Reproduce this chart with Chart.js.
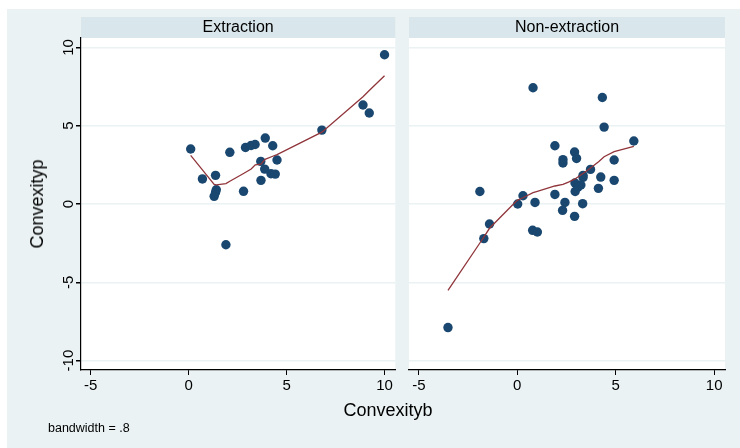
<!DOCTYPE html>
<html>
<head>
<meta charset="utf-8">
<script src="https://cdn.jsdelivr.net/npm/chart.js@4/dist/chart.umd.min.js"></script>
<style>
  html, body { margin: 0; padding: 0; background: #ffffff; }
  #wrap { position: relative; width: 740px; height: 448px; background: #ffffff; overflow: hidden;
          font-family: "Liberation Sans", Arial, Helvetica, sans-serif; }
  #bg { position: absolute; left: 7px; top: 9px; width: 733px; height: 439px; background: #eaf2f3; }
  canvas { position: absolute; top: 0; }
  #cvL { left: 0; }
  #cvR { left: 400px; }
  .lbl { position: absolute; color: #000; white-space: nowrap; line-height: 1; }
  #xTitle { left: 388px; top: 410px; font-size: 18px; transform: translate(-50%, -50%); }
  #yTitle { left: 37px; top: 204px; font-size: 18px; transform: translate(-50%, -50%) rotate(-90deg); }
  #note { left: 48px; top: 428px; font-size: 12.5px; transform: translate(0, -50%); }
</style>
</head>
<body>
<div id="wrap">
  <div id="bg"></div>
  <canvas id="cvL" width="400" height="448"></canvas>
  <canvas id="cvR" width="340" height="448"></canvas>
  <div class="lbl" id="xTitle">Convexityb</div>
  <div class="lbl" id="yTitle">Convexityp</div>
  <div class="lbl" id="note">bandwidth = .8</div>
</div>
<script>
// Panel titles
const panelTitles = ["Extraction", "Non-extraction"];

// Axis ticks
const xTicks = [-5, 0, 5, 10];
const yTicks = [-10, -5, 0, 5, 10];

// Extraction group: observations
const extractionX = [0.10, 0.70, 1.37, 1.41, 1.37, 1.30, 2.10, 2.80, 2.90, 3.19, 3.39, 3.91, 4.29, 3.68, 3.88, 3.69, 4.20, 4.42, 4.51, 6.80, 8.90, 9.22, 10.00, 1.90];
const extractionY = [3.51, 1.60, 1.83, 0.91, 0.74, 0.49, 3.30, 0.81, 3.61, 3.74, 3.80, 4.21, 3.72, 2.72, 2.23, 1.51, 1.93, 1.91, 2.81, 4.72, 6.32, 5.81, 9.53, -2.60];

// Extraction group: lowess smooth
const extractionFitX = [0.10, 0.70, 1.30, 1.41, 1.90, 2.10, 2.80, 3.19, 3.40, 3.69, 3.90, 4.29, 4.51, 6.80, 8.90, 9.22, 10.00];
const extractionFitY = [3.10, 2.18, 1.25, 1.22, 1.30, 1.45, 1.95, 2.23, 2.50, 2.55, 2.85, 3.05, 3.15, 4.59, 6.85, 7.25, 8.19];

// Non-extraction group: observations
const nonExtractionX = [0.80, 4.32, 4.41, 5.92, 1.91, 2.91, 3.01, 2.32, 2.32, 4.92, 3.72, 3.34, 3.34, 4.24, 4.92, 2.93, 3.23, 3.08, 2.94, 4.12, -1.90, 0.29, 1.91, 0.02, 0.90, 2.42, 3.32, 2.30, 2.91, -1.41, -1.70, 0.78, 1.02, -3.52];
const nonExtractionY = [7.42, 6.80, 4.91, 4.02, 3.72, 3.32, 2.91, 2.83, 2.62, 2.81, 2.21, 1.83, 1.70, 1.72, 1.51, 1.34, 1.21, 1.08, 0.80, 1.00, 0.80, 0.53, 0.61, 0.00, 0.10, 0.10, 0.02, -0.41, -0.79, -1.28, -2.21, -1.68, -1.79, -7.89];

// Non-extraction group: lowess smooth
const nonExtractionFitX = [-3.52, -1.90, -1.70, -1.41, -0.12, 0.02, 0.29, 0.80, 1.02, 1.91, 2.32, 2.60, 2.93, 3.34, 3.72, 4.13, 4.41, 4.92, 5.92];
const nonExtractionFitY = [-5.51, -2.49, -2.11, -1.55, 0.10, 0.25, 0.40, 0.72, 0.80, 1.15, 1.25, 1.40, 1.60, 1.95, 2.30, 2.70, 3.02, 3.34, 3.68];

const FONT = '"Liberation Sans", Arial, Helvetica, sans-serif';
const MARKER = '#1a476f';
const SMOOTH = '#90353b';
const GRID = '#eaf2f3';
const STRIP = '#d9e6eb';

function pairs(xs, ys) { return xs.map((x, i) => ({ x: x, y: ys[i] })); }

// Plot region background plus the title strip above it
const panelDecor = {
  id: 'panelDecor',
  beforeDraw(chart, args, opts) {
    const a = chart.chartArea, ctx = chart.ctx;
    ctx.save();
    ctx.fillStyle = '#ffffff';
    ctx.fillRect(a.left, a.top, a.right - a.left, a.bottom - a.top);
    ctx.fillStyle = STRIP;
    ctx.fillRect(a.left, 17, a.right - a.left, 21);
    ctx.fillStyle = '#000000';
    ctx.font = '16px ' + FONT;
    ctx.textAlign = 'center';
    ctx.textBaseline = 'middle';
    ctx.fillText(opts.title, (a.left + a.right) / 2, 27.5);
    ctx.restore();
  }
};

function makePanel(canvasId, title, xs, ys, fx, fy, showY, pad) {
  return new Chart(document.getElementById(canvasId), {
    type: 'scatter',
    data: {
      datasets: [
        {
          type: 'line',
          data: pairs(fx, fy),
          borderColor: SMOOTH,
          borderWidth: 1.3,
          pointRadius: 0,
          fill: false,
          tension: 0,
          order: 0
        },
        {
          data: pairs(xs, ys),
          backgroundColor: MARKER,
          borderWidth: 0,
          pointRadius: 4.7,
          order: 1
        }
      ]
    },
    options: {
      responsive: false,
      animation: false,
      events: [],
      layout: { padding: pad },
      plugins: {
        legend: { display: false },
        tooltip: { enabled: false },
        panelDecor: { title: title }
      },
      scales: {
        x: {
          type: 'linear',
          min: -5.5, max: 10.55,
          afterBuildTicks: s => { s.ticks = xTicks.map(v => ({ value: v })); },
          afterFit: s => { s.height = 30; },
          border: { display: true, color: '#000000', width: 1.2 },
          grid: { drawOnChartArea: false, drawTicks: true, tickLength: 5, tickColor: '#000000', lineWidth: 1 },
          ticks: { color: '#000000', font: { family: FONT, size: 15 }, padding: 2, maxRotation: 0 }
        },
        y: {
          type: 'linear',
          min: -10.6, max: 10.6,
          afterBuildTicks: s => { s.ticks = yTicks.map(v => ({ value: v })); },
          afterFit: s => { s.width = showY ? 81 : 0; },
          border: { display: showY, color: '#000000', width: 1.2 },
          grid: { color: GRID, lineWidth: 1.5, drawTicks: showY, tickLength: 5, tickColor: '#000000' },
          ticks: {
            display: showY,
            color: '#000000',
            font: { family: FONT, size: 15 },
            minRotation: 90, maxRotation: 90,
            crossAlign: 'center',
            padding: -4
          }
        }
      }
    },
    plugins: [panelDecor]
  });
}

makePanel('cvL', panelTitles[0], extractionX, extractionY, extractionFitX, extractionFitY, true,
  { left: 0, right: 4, top: 38, bottom: 48 });
makePanel('cvR', panelTitles[1], nonExtractionX, nonExtractionY, nonExtractionFitX, nonExtractionFitY, false,
  { left: 9, right: 15, top: 38, bottom: 48 });
</script>
</body>
</html>
